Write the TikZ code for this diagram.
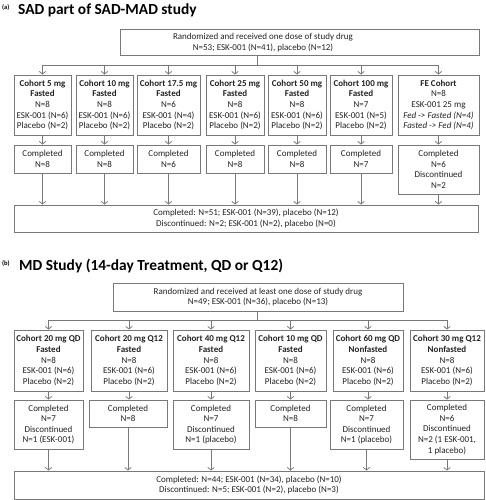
\documentclass[tikz,border=0pt]{standalone}
\usepackage{fontspec}
\setmainfont{Carlito}
\usetikzlibrary{arrows.meta}
\definecolor{bordergray}{RGB}{120,120,120}
\definecolor{txt}{RGB}{35,35,35}
\begin{document}
\begin{tikzpicture}[x=1pt,y=-1pt,
  box/.style={draw=bordergray, line width=0.95pt, fill=white, inner sep=1pt, align=center,
    font=\fontsize{9}{10.6}\selectfont, text=txt},
  plain/.style={inner sep=0pt, align=center, font=\fontsize{9}{10.6}\selectfont, text=txt},
  conn/.style={draw=bordergray, line width=0.95pt},
  arr/.style={conn, -{Straight Barb[length=2.6pt,width=6.5pt,line width=0.8pt]}},
  ttl/.style={anchor=base west, inner sep=0pt, font=\fontsize{15.4}{18}\selectfont\bfseries, text=black},
  tag/.style={anchor=base west, inner sep=0pt, font=\fontsize{6.5}{8}\selectfont\bfseries, text=black}
]
\useasboundingbox (0,0) rectangle (485,500);

% ---------------- Part (a) ----------------
\node[tag] (tagA) at (2,10) {(a)};
\node[ttl] (titleA) at (18,15) {SAD part of SAD-MAD study};

\node[box, minimum width=359pt, minimum height=26pt] (topA) at (299.5,42) {};
\node[plain] (topAtext) at (263,42.5) {Randomized and received one dose of study drug\\N=53; ESK-001 (N=41), placebo (N=12)};

\node[box, minimum width=57pt, minimum height=60pt] (a1) at (42.5,105) {\textbf{Cohort 5 mg}\\\textbf{Fasted}\\N=8\\ESK-001 (N=6)\\Placebo (N=2)};
\node[box, minimum width=57pt, minimum height=60pt] (a2) at (104.5,105) {\textbf{Cohort 10 mg}\\\textbf{Fasted}\\N=8\\ESK-001 (N=6)\\Placebo (N=2)};
\node[box, minimum width=63pt, minimum height=60pt] (a3) at (168.5,105) {\textbf{Cohort 17.5 mg}\\\textbf{Fasted}\\N=6\\ESK-001 (N=4)\\Placebo (N=2)};
\node[box, minimum width=58pt, minimum height=60pt] (a4) at (235,105) {\textbf{Cohort 25 mg}\\\textbf{Fasted}\\N=8\\ESK-001 (N=6)\\Placebo (N=2)};
\node[box, minimum width=58pt, minimum height=60pt] (a5) at (297,105) {\textbf{Cohort 50 mg}\\\textbf{Fasted}\\N=8\\ESK-001 (N=6)\\Placebo (N=2)};
\node[box, minimum width=62pt, minimum height=60pt] (a6) at (361,105) {\textbf{Cohort 100 mg}\\\textbf{Fasted}\\N=7\\ESK-001 (N=5)\\Placebo (N=2)};
\node[box, minimum width=81pt, minimum height=60pt] (a7) at (438.5,105) {\textbf{FE Cohort}\\N=8\\ESK-001 25 mg\\\textit{Fed -> Fasted (N=4)}\\\textit{Fasted -> Fed (N=4)}};

\node[box, minimum width=57pt, minimum height=28pt] (ca1) at (42.5,159) {Completed\\N=8};
\node[box, minimum width=57pt, minimum height=28pt] (ca2) at (104.5,159) {Completed\\N=8};
\node[box, minimum width=63pt, minimum height=28pt] (ca3) at (168.5,159) {Completed\\N=6};
\node[box, minimum width=58pt, minimum height=28pt] (ca4) at (235,159) {Completed\\N=8};
\node[box, minimum width=58pt, minimum height=28pt] (ca5) at (297,159) {Completed\\N=8};
\node[box, minimum width=62pt, minimum height=28pt] (ca6) at (361,159) {Completed\\N=7};
\node[box, minimum width=81pt, minimum height=49pt] (ca7) at (438.5,169.5) {Completed\\N=6\\Discontinued\\N=2};

\node[box, minimum width=464pt, minimum height=27pt] (botA) at (246,218.5) {Completed: N=51; ESK-001 (N=39), placebo (N=12)\\Discontinued: N=2; ESK-001 (N=2), placebo (N=0)};

\coordinate (stemA) at (257,65);
\draw[conn] (stemA |- topA.south) -- (stemA);
\draw[conn] (a1.north |- stemA) -- (a7.north |- stemA);
\foreach \n in {1,...,7} {
  \draw[arr] (a\n.north |- stemA) -- (a\n.north);
  \draw[arr] (a\n.south) -- (ca\n.north);
  \draw[arr] (ca\n.south) -- (ca\n.south |- botA.north);
}

% ---------------- Part (b) ----------------
\node[tag] (tagB) at (2,265) {(b)};
\node[ttl] (titleB) at (19,270) {MD Study (14-day Treatment, QD or Q12)};

\node[box, minimum width=290pt, minimum height=28pt] (topB) at (258,297) {Randomized and received at least one dose of study drug\\N=49; ESK-001 (N=36), placebo (N=13)};

\node[box, minimum width=69pt, minimum height=61pt] (b1) at (48.5,360.5) {\textbf{Cohort 20 mg QD}\\\textbf{Fasted}\\N=8\\ESK-001 (N=6)\\Placebo (N=2)};
\node[box, minimum width=76pt, minimum height=61pt] (b2) at (129,360.5) {\textbf{Cohort 20 mg Q12}\\\textbf{Fasted}\\N=8\\ESK-001 (N=6)\\Placebo (N=2)};
\node[box, minimum width=76pt, minimum height=61pt] (b3) at (211,360.5) {\textbf{Cohort 40 mg Q12}\\\textbf{Fasted}\\N=8\\ESK-001 (N=6)\\Placebo (N=2)};
\node[box, minimum width=71pt, minimum height=61pt] (b4) at (290.5,360.5) {\textbf{Cohort 10 mg QD}\\\textbf{Fasted}\\N=8\\ESK-001 (N=6)\\Placebo (N=2)};
\node[box, minimum width=70pt, minimum height=61pt] (b5) at (368,360.5) {\textbf{Cohort 60 mg QD}\\\textbf{Nonfasted}\\N=8\\ESK-001 (N=6)\\Placebo (N=2)};
\node[box, minimum width=74pt, minimum height=61pt] (b6) at (447,360.5) {\textbf{Cohort 30 mg Q12}\\\textbf{Nonfasted}\\N=8\\ESK-001 (N=6)\\Placebo (N=2)};

\node[box, minimum width=69pt, minimum height=49pt] (cb1) at (48.5,424.5) {Completed\\N=7\\Discontinued\\N=1 (ESK-001)};
\node[box, minimum width=78pt, minimum height=27pt] (cb2) at (128,413.5) {Completed\\N=8};
\node[box, minimum width=76pt, minimum height=49pt] (cb3) at (211,424.5) {Completed\\N=7\\Discontinued\\N=1 (placebo)};
\node[box, minimum width=71pt, minimum height=27pt] (cb4) at (290.5,413.5) {Completed\\N=8};
\node[box, minimum width=73pt, minimum height=49pt] (cb5) at (366.5,424.5) {Completed\\N=7\\Discontinued\\N=1 (placebo)};
\node[box, minimum width=74pt, minimum height=59pt] (cb6) at (447,429.5) {Completed\\N=6\\Discontinued\\N=2 (1 ESK-001,\\1 placebo)};

\node[box, minimum width=470pt, minimum height=28pt] (botB) at (249,485) {Completed: N=44; ESK-001 (N=34), placebo (N=10)\\Discontinued: N=5; ESK-001 (N=2), placebo (N=3)};

\coordinate (stemB) at (257,320);
\draw[conn] (stemB |- topB.south) -- (stemB);
\draw[conn] (b1.north |- stemB) -- (b6.north |- stemB);
\foreach \n in {1,...,6} {
  \draw[arr] (b\n.north |- stemB) -- (b\n.north);
  \draw[arr] (b\n.south) -- (b\n.south |- cb\n.north);
  \draw[arr] (cb\n.south) -- (cb\n.south |- botB.north);
}
\end{tikzpicture}
\end{document}
